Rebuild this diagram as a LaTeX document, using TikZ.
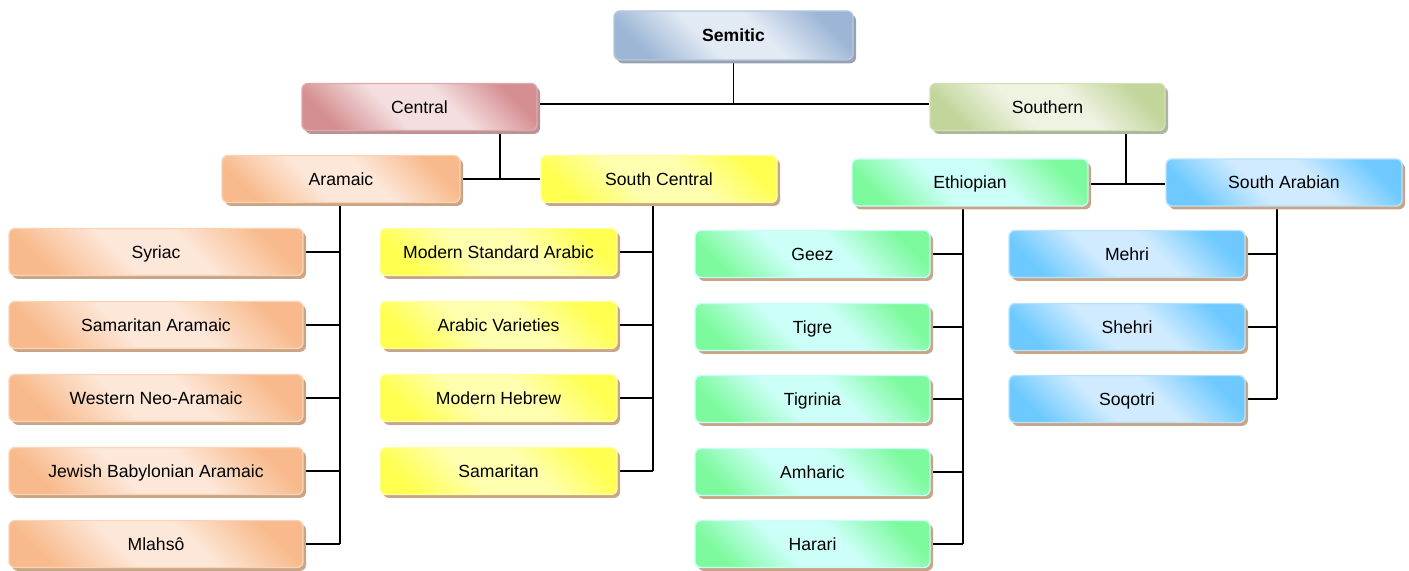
\documentclass[tikz,border=0pt]{standalone}
\usepackage{fontspec}
\setmainfont{Liberation Sans}
\usetikzlibrary{shadows,backgrounds}
\definecolor{semD}{HTML}{9DB6D6}\definecolor{semL}{HTML}{E2EAF4}\definecolor{semB}{HTML}{B4C7E0}\definecolor{semS}{HTML}{98A3B2}
\definecolor{cenD}{HTML}{D58E91}\definecolor{cenL}{HTML}{F4DEDF}\definecolor{cenB}{HTML}{E0A8AC}\definecolor{cenS}{HTML}{B89496}
\definecolor{souD}{HTML}{C2D59A}\definecolor{souL}{HTML}{EEF3E2}\definecolor{souB}{HTML}{D2E1B4}\definecolor{souS}{HTML}{AEB59E}
\definecolor{araD}{HTML}{F8BA8C}\definecolor{araL}{HTML}{FDE7D8}\definecolor{araB}{HTML}{FBD2B4}
\definecolor{sceD}{HTML}{FFFF50}\definecolor{sceL}{HTML}{FFFFB0}\definecolor{sceB}{HTML}{FFFFA0}
\definecolor{ethD}{HTML}{7EFA9E}\definecolor{ethL}{HTML}{CCFFF8}\definecolor{ethB}{HTML}{C6FFFA}
\definecolor{sarD}{HTML}{6DC9FF}\definecolor{sarL}{HTML}{D0EBFF}\definecolor{sarB}{HTML}{B8E2FF}
\definecolor{tanS}{HTML}{C9A587}
\pgfdeclarehorizontalshading{semSh}{100bp}{color(0bp)=(semD); color(24bp)=(semD); color(42bp)=(semL); color(58bp)=(semL); color(76bp)=(semD); color(100bp)=(semD)}
\pgfdeclarehorizontalshading{cenSh}{100bp}{color(0bp)=(cenD); color(24bp)=(cenD); color(42bp)=(cenL); color(58bp)=(cenL); color(76bp)=(cenD); color(100bp)=(cenD)}
\pgfdeclarehorizontalshading{souSh}{100bp}{color(0bp)=(souD); color(24bp)=(souD); color(42bp)=(souL); color(58bp)=(souL); color(76bp)=(souD); color(100bp)=(souD)}
\pgfdeclarehorizontalshading{araSh}{100bp}{color(0bp)=(araD); color(24bp)=(araD); color(42bp)=(araL); color(58bp)=(araL); color(76bp)=(araD); color(100bp)=(araD)}
\pgfdeclarehorizontalshading{sceSh}{100bp}{color(0bp)=(sceD); color(24bp)=(sceD); color(42bp)=(sceL); color(58bp)=(sceL); color(76bp)=(sceD); color(100bp)=(sceD)}
\pgfdeclarehorizontalshading{ethSh}{100bp}{color(0bp)=(ethD); color(24bp)=(ethD); color(42bp)=(ethL); color(58bp)=(ethL); color(76bp)=(ethD); color(100bp)=(ethD)}
\pgfdeclarehorizontalshading{sarSh}{100bp}{color(0bp)=(sarD); color(24bp)=(sarD); color(42bp)=(sarL); color(58bp)=(sarL); color(76bp)=(sarD); color(100bp)=(sarD)}
\begin{document}
\begin{tikzpicture}[x=0.5pt,y=-0.5pt,
  box/.style={rounded corners=3pt, minimum height=23.5pt, inner sep=0pt,
    text height=6.4pt, text depth=0pt,
    font=\fontsize{8.8}{10}\selectfont, text=black, line width=0.7pt},
  grad/.style n args={3}{box, draw=#2, shading=#1, shading angle=45,
    drop shadow={fill=#3, opacity=1, shadow xshift=1.5pt, shadow yshift=-1.7pt}},
  sembox/.style={grad={semSh}{semB}{semS}},
  cenbox/.style={grad={cenSh}{cenB}{cenS}},
  soubox/.style={grad={souSh}{souB}{souS}},
  arabox/.style={grad={araSh}{araB}{tanS}},
  scebox/.style={grad={sceSh}{sceB}{tanS}},
  ethbox/.style={grad={ethSh}{ethB}{tanS}},
  sarbox/.style={grad={sarSh}{sarB}{tanS}},
  conn/.style={draw=black, line width=0.9pt}]
\useasboundingbox (0,0) rectangle (1409,571);
\node[sembox, minimum width=119.5pt, minimum height=24.5pt, font=\fontsize{8.8}{10}\selectfont\bfseries] (sem) at (733.5,35.5) {Semitic};
\node[cenbox, minimum width=117.5pt] (cen) at (419.5,107) {Central};
\node[soubox, minimum width=117.5pt] (sou) at (1047.5,107) {Southern};
\node[arabox, minimum width=119pt] (ara) at (341,179) {Aramaic};
\node[scebox, minimum width=118pt] (sce) at (659,179) {South Central};
\node[ethbox, minimum width=118pt] (eth) at (970,182.5) {Ethiopian};
\node[sarbox, minimum width=118pt] (sar) at (1284,182.5) {South Arabian};
% Aramaic children
\node[arabox, minimum width=147pt] (a1) at (156,252) {Syriac};
\node[arabox, minimum width=147pt] (a2) at (156,325) {Samaritan Aramaic};
\node[arabox, minimum width=147pt] (a3) at (156,398) {Western Neo-Aramaic};
\node[arabox, minimum width=147pt] (a4) at (156,471) {Jewish Babylonian Aramaic};
\node[arabox, minimum width=147pt] (a5) at (156,544) {Mlahsô};
% South Central children
\node[scebox, minimum width=118.5pt] (s1) at (498.5,252) {Modern Standard Arabic};
\node[scebox, minimum width=118.5pt] (s2) at (498.5,325) {Arabic Varieties};
\node[scebox, minimum width=118.5pt] (s3) at (498.5,398) {Modern Hebrew};
\node[scebox, minimum width=118.5pt] (s4) at (498.5,471) {Samaritan};
% Ethiopian children
\node[ethbox, minimum width=117.5pt] (e1) at (812.5,254) {Geez};
\node[ethbox, minimum width=117.5pt] (e2) at (812.5,327) {Tigre};
\node[ethbox, minimum width=117.5pt] (e3) at (812.5,399) {Tigrinia};
\node[ethbox, minimum width=117.5pt] (e4) at (812.5,472) {Amharic};
\node[ethbox, minimum width=117.5pt] (e5) at (812.5,544) {Harari};
% South Arabian children
\node[sarbox, minimum width=118pt] (r1) at (1127,254) {Mehri};
\node[sarbox, minimum width=118pt] (r2) at (1127,327) {Shehri};
\node[sarbox, minimum width=118pt] (r3) at (1127,399) {Soqotri};
% junction columns
\coordinate (vc) at (500,0);
\coordinate (vs) at (1126,0);
\coordinate (va) at (340,0);
\coordinate (vsc) at (653,0);
\coordinate (ve) at (963,0);
\coordinate (vr) at (1277,0);
\begin{scope}[on background layer]
\draw[conn] ([yshift=1.5pt]cen.east) -- ([yshift=1.5pt]sou.west);
\draw[conn] (sem.south) -- ([yshift=1.5pt]sem.south |- cen.east);
\draw[conn] (ara.east) -- (sce.west);
\draw[conn] (vc |- cen.south) -- (vc |- ara.east);
\draw[conn] ([yshift=-0.8pt]eth.east) -- ([yshift=-0.8pt]sar.west);
\draw[conn] (vs |- sou.south) -- ([yshift=-0.8pt]vs |- eth.east);
\draw[conn] (va |- ara.south) -- (va |- a5.east);
\foreach \c in {a1,a2,a3,a4,a5} \draw[conn] (\c.east) -- (va |- \c.east);
\draw[conn] (vsc |- sce.south) -- (vsc |- s4.east);
\foreach \c in {s1,s2,s3,s4} \draw[conn] (\c.east) -- (vsc |- \c.east);
\draw[conn] (ve |- eth.south) -- (ve |- e5.east);
\foreach \c in {e1,e2,e3,e4,e5} \draw[conn] (\c.east) -- (ve |- \c.east);
\draw[conn] (vr |- sar.south) -- (vr |- r3.east);
\foreach \c in {r1,r2,r3} \draw[conn] (\c.east) -- (vr |- \c.east);
\end{scope}
\end{tikzpicture}
\end{document}
